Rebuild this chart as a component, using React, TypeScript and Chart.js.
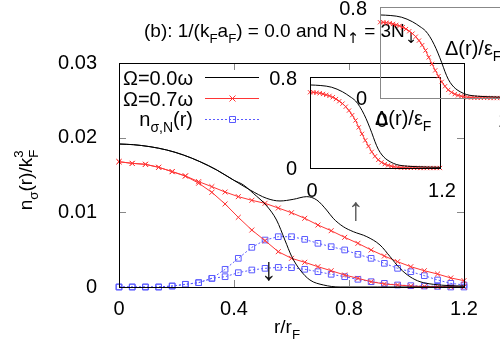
import React, { useEffect, useRef } from 'react';
import { Chart, registerables } from 'chart.js';

Chart.register(...registerables);

// ---------- data ----------
const rGrid = [0, 0.046, 0.092, 0.138, 0.185, 0.231, 0.277, 0.323, 0.369, 0.415, 0.462, 0.508, 0.554, 0.6, 0.646, 0.692, 0.738, 0.785, 0.831, 0.877, 0.923, 0.969, 1.015, 1.062, 1.108, 1.154, 1.2];
const redUp = [0.01678, 0.01656, 0.01643, 0.01603, 0.01545, 0.01487, 0.01411, 0.01344, 0.01272, 0.0121, 0.01161, 0.01121, 0.01058, 0.00995, 0.0092, 0.0083, 0.00754, 0.00665, 0.00585, 0.00496, 0.00415, 0.00339, 0.00272, 0.00218, 0.00174, 0.00121, 0.00085];
const redDown = [0.01678, 0.01656, 0.01643, 0.01603, 0.01545, 0.01487, 0.0139, 0.01268, 0.01112, 0.00933, 0.00763, 0.00621, 0.00473, 0.00384, 0.00331, 0.00272, 0.00218, 0.00161, 0.00116, 0.00071, 0.0004, 0.00027, 0.00013, 0.00006, 0.00003, 0.00001, 0];
const blueUp = [0, 0, 0, 0, 0.00013, 0.00036, 0.00058, 0.00116, 0.00237, 0.00384, 0.00531, 0.00629, 0.00674, 0.00674, 0.00638, 0.00585, 0.0054, 0.00496, 0.00437, 0.00384, 0.00317, 0.0025, 0.00205, 0.00152, 0.00094, 0.00049, 0.00027];
const blueDown = [0, 0, 0, 0, 0.00013, 0.00036, 0.00058, 0.00116, 0.00138, 0.00192, 0.00228, 0.0025, 0.00263, 0.00259, 0.00237, 0.00205, 0.0017, 0.00138, 0.00103, 0.00071, 0.00049, 0.00027, 0.00018, 0.00013, 0.00009, 0, 0];

const blackUpR = [0, 0.05, 0.108, 0.166, 0.224, 0.282, 0.34, 0.398, 0.456, 0.514, 0.56, 0.606, 0.653, 0.688, 0.722, 0.745, 0.78, 0.815, 0.862, 0.908, 0.943, 0.977, 1.012, 1.047, 1.093, 1.151, 1.2];
const blackUpV = [0.01915, 0.01906, 0.01879, 0.01835, 0.01768, 0.01678, 0.01567, 0.01433, 0.01299, 0.01187, 0.01152, 0.01174, 0.0121, 0.01165, 0.01031, 0.0092, 0.00808, 0.00741, 0.00674, 0.00562, 0.00406, 0.0025, 0.00138, 0.00071, 0.00036, 0.00018, 0.00013];
const blackDownR = [0, 0.05, 0.108, 0.166, 0.224, 0.282, 0.34, 0.398, 0.433, 0.467, 0.514, 0.548, 0.577, 0.601, 0.63, 0.664, 0.711, 0.769, 0.9, 1.2];
const blackDownV = [0.01915, 0.01906, 0.01879, 0.01835, 0.01768, 0.01678, 0.01567, 0.01433, 0.01366, 0.01255, 0.01085, 0.00897, 0.00629, 0.00406, 0.00228, 0.00094, 0.00027, 0, 0, 0];

const insetRedR = [0, 0.03, 0.06, 0.09, 0.12, 0.15, 0.18, 0.21, 0.24, 0.27, 0.3, 0.33, 0.36, 0.39, 0.42, 0.45, 0.48, 0.51, 0.54, 0.57, 0.6, 0.63, 0.66, 0.69, 0.72, 0.75, 0.78, 0.81, 0.84, 0.87, 0.9, 0.93, 0.96, 0.99, 1.02, 1.05, 1.08, 1.11, 1.14, 1.17, 1.2];
const insetRedV = [0.666, 0.665, 0.662, 0.657, 0.651, 0.643, 0.634, 0.622, 0.606, 0.587, 0.566, 0.539, 0.505, 0.465, 0.418, 0.357, 0.3, 0.243, 0.192, 0.142, 0.103, 0.071, 0.05, 0.034, 0.023, 0.016, 0.01, 0.006, 0.004, 0.003, 0.002, 0.001, 0.001, 0.001, 0, 0, 0, 0, 0, 0, 0];
const insetBlackR = [0, 0.1, 0.2, 0.3, 0.37, 0.42, 0.46, 0.5, 0.535, 0.57, 0.6, 0.63, 0.665, 0.7, 0.74, 0.8, 0.9, 1.0, 1.1, 1.2];
const insetBlackV = [0.73, 0.725, 0.71, 0.67, 0.627, 0.59, 0.539, 0.47, 0.395, 0.31, 0.231, 0.165, 0.114, 0.08, 0.055, 0.03, 0.016, 0.011, 0.008, 0.006];

const xTickValues = [0, 0.4, 0.8, 1.2];
const yTickValues = [0, 0.01, 0.02, 0.03];
const insetYLabels = ['0', '0.8'];
const insetXLabels = ['0', '1.2'];
const legendLabels = ['Ω=0.0ω', 'Ω=0.7ω'];

// ---------- styling ----------
const FONT = "'Liberation Sans', Arial, Helvetica, sans-serif";
const ARROW_FONT = "'DejaVu Sans', sans-serif";
const FS = 20;
const RED = '#ff3535';
const BLUE = '#5a5aff';

type Seg = { t?: string; sub?: string; sup?: string };

const isArrow = (s: string) => /[↑↓]/.test(s);
const fontFor = (txt: string, size: number) => (isArrow(txt) ? `${size * 1.1}px ${ARROW_FONT}` : `${size}px ${FONT}`);

function segWidth(ctx: CanvasRenderingContext2D, s: Seg, size: number) {
  let w = 0;
  if (s.t) { ctx.font = fontFor(s.t, size); w = ctx.measureText(s.t).width; }
  let a = 0, b = 0;
  if (s.sub) { ctx.font = fontFor(s.sub, size * 0.7); a = ctx.measureText(s.sub).width; }
  if (s.sup) { ctx.font = fontFor(s.sup, size * 0.7); b = ctx.measureText(s.sup).width; }
  return w + Math.max(a, b);
}

function drawRich(ctx: CanvasRenderingContext2D, segs: Seg[], x: number, y: number, size: number, align: 'left' | 'center' | 'right', color = '#000') {
  const total = segs.reduce((acc, s) => acc + segWidth(ctx, s, size), 0);
  let cx = align === 'left' ? x : align === 'center' ? x - total / 2 : x - total;
  ctx.save();
  ctx.fillStyle = color;
  ctx.textAlign = 'left';
  ctx.textBaseline = 'alphabetic';
  for (const s of segs) {
    if (s.t) {
      ctx.font = fontFor(s.t, size);
      ctx.fillText(s.t, cx, y);
      cx += ctx.measureText(s.t).width;
    }
    let w = 0;
    if (s.sub) {
      ctx.font = fontFor(s.sub, size * 0.7);
      ctx.fillText(s.sub, cx, y + size * 0.3);
      w = Math.max(w, ctx.measureText(s.sub).width);
    }
    if (s.sup) {
      ctx.font = fontFor(s.sup, size * 0.7);
      ctx.fillText(s.sup, cx, y - size * 0.45);
      w = Math.max(w, ctx.measureText(s.sup).width);
    }
    cx += w;
  }
  ctx.restore();
}

const pts = (xs: number[], ys: number[]) => xs.map((x, i) => ({ x, y: ys[i] }));

const mainPlugin = {
  id: 'gnuFrame',
  afterDraw(chart: any) {
    const ctx: CanvasRenderingContext2D = chart.ctx;
    const { left, right, top, bottom } = chart.chartArea;
    const xs = chart.scales.x;
    const ys = chart.scales.y;
    ctx.save();
    // inward ticks
    ctx.strokeStyle = '#888';
    ctx.lineWidth = 1;
    ctx.beginPath();
    xTickValues.slice(1, -1).forEach((v) => {
      const px = Math.round(xs.getPixelForValue(v)) + 0.5;
      ctx.moveTo(px, bottom); ctx.lineTo(px, bottom - 7);
      ctx.moveTo(px, top); ctx.lineTo(px, top + 7);
    });
    yTickValues.slice(1, -1).forEach((v) => {
      const py = Math.round(ys.getPixelForValue(v)) + 0.5;
      ctx.moveTo(left, py); ctx.lineTo(left + 7, py);
      ctx.moveTo(right, py); ctx.lineTo(right - 7, py);
    });
    ctx.stroke();
    // frame
    ctx.strokeStyle = '#000';
    ctx.strokeRect(Math.round(left) + 0.5, Math.round(top) + 0.5, Math.round(right - left), Math.round(bottom - top));
    ctx.restore();

    // title
    drawRich(ctx, [
      { t: '(b): 1/(k', sub: 'F' }, { t: 'a', sub: 'F' }, { t: ') = 0.0 and N', sub: '↑' }, { t: ' = 3N', sub: '↓' },
    ], 144, 37, 19, 'left');

    // axis titles
    drawRich(ctx, [{ t: 'r/r', sub: 'F' }], 287, 333, 19, 'center');
    ctx.save();
    ctx.translate(32, 180);
    ctx.rotate(-Math.PI / 2);
    drawRich(ctx, [{ t: 'n', sub: 'σ' }, { t: '(r)/k', sub: 'F', sup: '3' }], 0, 0, 19, 'center');
    ctx.restore();

    // legend
    const rows = [
      { segs: [{ t: legendLabels[0] }], ly: 77.5, color: '#000', kind: 'line' },
      { segs: [{ t: legendLabels[1] }], ly: 98.5, color: RED, kind: 'cross' },
      { segs: [{ t: 'n', sub: 'σ,N' }, { t: '(r)' }], ly: 119.5, color: BLUE, kind: 'square' },
    ];
    const baselines = [85, 106, 126];
    rows.forEach((row, i) => {
      drawRich(ctx, row.segs as Seg[], 193, baselines[i], FS, 'right');
      ctx.save();
      ctx.strokeStyle = row.color;
      ctx.lineWidth = 1;
      if (row.kind === 'square') ctx.setLineDash([2, 2]);
      ctx.beginPath();
      ctx.moveTo(205, row.ly); ctx.lineTo(259, row.ly);
      ctx.stroke();
      ctx.setLineDash([]);
      ctx.beginPath();
      if (row.kind === 'cross') {
        ctx.moveTo(229.5, row.ly - 3); ctx.lineTo(235.5, row.ly + 3);
        ctx.moveTo(229.5, row.ly + 3); ctx.lineTo(235.5, row.ly - 3);
      } else if (row.kind === 'square') {
        ctx.rect(229.5, row.ly - 3, 6, 6);
      }
      ctx.stroke();
      ctx.restore();
    });

    // arrows
    ctx.save();
    ctx.font = `32px ${FONT}`;
    ctx.textAlign = 'center';
    ctx.textBaseline = 'middle';
    ctx.fillStyle = '#111';
    ctx.fillText('↓', 269, 271);
    ctx.fillStyle = '#555';
    ctx.fillText('↑', 356, 211);
    ctx.restore();
  },
};

function makeInsetPlugin(boxColor: string) {
  return {
    id: 'insetFrame',
    afterDraw(chart: any) {
      const ctx: CanvasRenderingContext2D = chart.ctx;
      const { left, right, top, bottom } = chart.chartArea;
      ctx.save();
      ctx.strokeStyle = boxColor;
      ctx.lineWidth = 1;
      ctx.strokeRect(Math.round(left) + 0.5, Math.round(top) + 0.5, Math.round(right - left), Math.round(bottom - top));
      ctx.restore();
      drawRich(ctx, [{ t: insetYLabels[1] }], left - 13, top + 8, FS, 'right');
      drawRich(ctx, [{ t: insetYLabels[0] }], left - 13, bottom + 7, FS, 'right');
      drawRich(ctx, [{ t: insetXLabels[0] }], left + 2, bottom + 29, FS, 'center');
      drawRich(ctx, [{ t: insetXLabels[1] }], right + 2, bottom + 29, FS, 'center');
      drawRich(ctx, [{ t: 'Δ(r)/ε', sub: 'F' }], left + 65, top + 48, FS, 'left');
    },
  };
}

function insetConfig(ox: number, oy: number, boxColor: string, canvasW: number) {
  const L = 310 + ox;
  const T = 77 + oy;
  return {
    type: 'line',
    data: {
      datasets: [
        { data: pts(insetBlackR, insetBlackV), borderColor: '#000', borderWidth: 1, pointRadius: 0, cubicInterpolationMode: 'monotone', clip: false },
        { data: pts(insetRedR, insetRedV), borderColor: RED, borderWidth: 1, pointStyle: 'crossRot', pointRadius: 3, pointBorderColor: RED, pointBorderWidth: 1, clip: false },
      ],
    },
    options: {
      responsive: false,
      animation: false,
      events: [],
      layout: { padding: { left: L, top: T, right: canvasW - L - 130, bottom: 350 - T - 91 } },
      scales: {
        x: { type: 'linear', display: false, min: 0, max: 1.2 },
        y: { type: 'linear', display: false, min: 0, max: 0.8 },
      },
      plugins: { legend: { display: false }, tooltip: { enabled: false } },
    },
    plugins: [makeInsetPlugin(boxColor)],
  };
}

function mainConfig() {
  const tickFont = { family: FONT, size: FS };
  return {
    type: 'line',
    data: {
      datasets: [
        { data: pts(blackUpR, blackUpV), borderColor: '#000', borderWidth: 1, pointRadius: 0, cubicInterpolationMode: 'monotone', clip: false },
        { data: pts(blackDownR, blackDownV), borderColor: '#000', borderWidth: 1, pointRadius: 0, cubicInterpolationMode: 'monotone', clip: false },
        { data: pts(rGrid, redUp), borderColor: RED, borderWidth: 1, pointStyle: 'crossRot', pointRadius: 3.5, pointBorderColor: RED, pointBorderWidth: 1, clip: false },
        { data: pts(rGrid, redDown), borderColor: RED, borderWidth: 1, pointStyle: 'crossRot', pointRadius: 3.5, pointBorderColor: RED, pointBorderWidth: 1, clip: false },
        { data: pts(rGrid, blueUp), borderColor: BLUE, borderWidth: 1, borderDash: [2, 2], pointStyle: 'rect', pointRadius: 4, pointBorderColor: BLUE, pointBackgroundColor: 'rgba(0,0,0,0)', pointBorderWidth: 1, clip: false },
        { data: pts(rGrid, blueDown), borderColor: BLUE, borderWidth: 1, borderDash: [2, 2], pointStyle: 'rect', pointRadius: 4, pointBorderColor: BLUE, pointBackgroundColor: 'rgba(0,0,0,0)', pointBorderWidth: 1, clip: false },
      ],
    },
    options: {
      responsive: false,
      animation: false,
      events: [],
      layout: { padding: { left: 0, top: 63, right: 36, bottom: 0 } },
      scales: {
        x: {
          type: 'linear', min: 0, max: 1.2,
          grid: { display: false }, border: { display: false },
          ticks: { stepSize: 0.4, font: tickFont, color: '#000', padding: 2, maxRotation: 0, callback: (v: number) => String(Math.round(v * 10) / 10) },
          afterFit: (s: any) => { s.height = 63; },
        },
        y: {
          type: 'linear', min: 0, max: 0.03,
          grid: { display: false }, border: { display: false },
          ticks: { stepSize: 0.01, font: tickFont, color: '#000', padding: 14, callback: (v: number) => String(Math.round(v * 100) / 100) },
          afterFit: (s: any) => { s.width = 119; },
        },
      },
      plugins: { legend: { display: false }, tooltip: { enabled: false } },
    },
    plugins: [mainPlugin],
  };
}

export default function App() {
  const mainRef = useRef<HTMLCanvasElement>(null);
  const insetRef = useRef<HTMLCanvasElement>(null);
  const ghostRef = useRef<HTMLCanvasElement>(null);

  useEffect(() => {
    document.body.style.margin = '0';
    const charts: Chart[] = [];
    if (mainRef.current) charts.push(new Chart(mainRef.current, mainConfig() as any));
    if (insetRef.current) charts.push(new Chart(insetRef.current, insetConfig(0, 0, '#000', 500) as any));
    if (ghostRef.current) charts.push(new Chart(ghostRef.current, insetConfig(70, -70, '#888', 540) as any));
    return () => charts.forEach((c) => c.destroy());
  }, []);

  const abs: React.CSSProperties = { position: 'absolute', left: 0, top: 0 };
  return (
    <div style={{ position: 'fixed', left: 0, top: 0, width: 500, height: 350, overflow: 'hidden', background: '#fff' }}>
      <canvas ref={mainRef} width={500} height={350} style={{ ...abs, width: 500, height: 350 }} />
      <canvas ref={insetRef} width={500} height={350} style={{ ...abs, width: 500, height: 350 }} />
      <canvas ref={ghostRef} width={540} height={350} style={{ ...abs, width: 540, height: 350 }} />
    </div>
  );
}
